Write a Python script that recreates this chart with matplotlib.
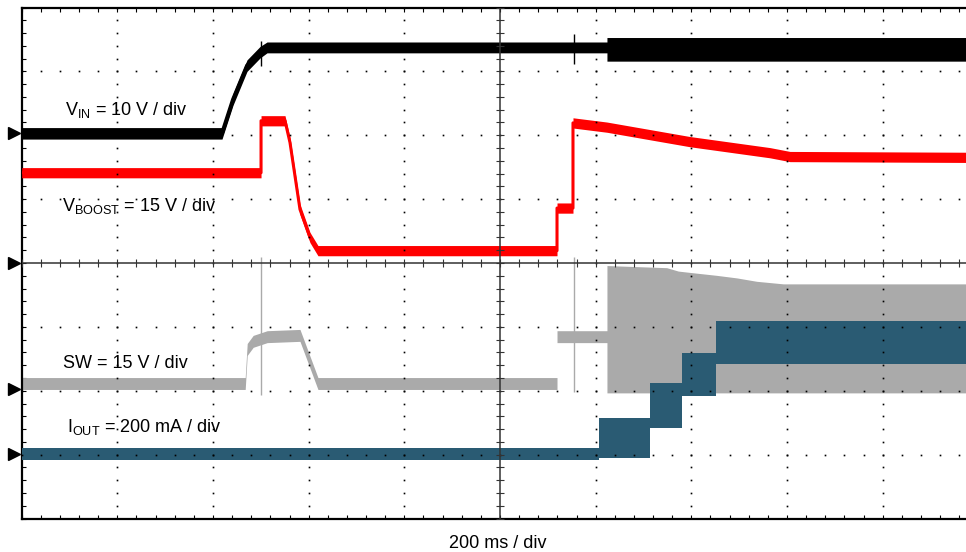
import matplotlib
matplotlib.use("Agg")
import matplotlib.pyplot as plt
import numpy as np

plt.rcParams['font.family'] = ['Liberation Sans', 'DejaVu Sans']
plt.rcParams['mathtext.fontset'] = 'custom'
plt.rcParams['mathtext.rm'] = 'Liberation Sans'
plt.rcParams['mathtext.it'] = 'Liberation Sans:italic'
plt.rcParams['mathtext.bf'] = 'Liberation Sans:bold'

# scope screen: 10 x 8 divisions, 200 ms / div
MS_PER_DIV = 200
N_XDIV = 10
N_YDIV = 8

# channel ground marker (div from screen centre) and units per division
VIN_OFFSET, VIN_SCALE = 2.03, 10        # V / div
VBOOST_OFFSET, VBOOST_SCALE = 0.0, 15   # V / div
SW_OFFSET, SW_SCALE = -1.98, 15         # V / div
IOUT_OFFSET, IOUT_SCALE = -2.99, 200    # mA / div

# VIN envelope (ms, V)
vin_t = [0, 418.8, 441.8, 471.1, 498.3, 512.9, 1223.6, 1223.6, 2000]
vin_lo = [-0.9, -0.9, 4.4, 9.7, 11.8, 12.6, 12.6, 11.3, 11.3]
vin_hi = [0.9, 0.9, 6.2, 11.5, 13.6, 14.3, 14.3, 15.0, 15.0]
vin_spike_t = [500.4, 1154.7]
vin_spike_lo = [10.5, 10.8]
vin_spike_hi = [14.4, 15.5]

# VBOOST envelope (ms, V)
vb_t = [0, 500.4, 500.4, 550.5, 560.9, 581.8, 602.7, 619.4, 1119.2, 1119.2,
        1152.6, 1152.6, 1223.6, 1397, 1564.4, 1606.2, 2000]
vb_lo = [20.0, 20.0, 32.2, 32.2, 27.1, 11.4, 4.8, 1.7, 1.7, 11.7,
         11.7, 31.7, 30.7, 27.3, 24.7, 23.8, 23.6]
vb_hi = [22.4, 22.4, 34.6, 34.6, 29.5, 13.8, 7.2, 4.1, 4.1, 14.1,
         14.1, 34.1, 33.1, 29.7, 27.1, 26.2, 26.0]

# SW envelope (ms, V)
sw_t = [0, 467.3, 471.5, 484.0, 513.3, 581.8, 619.4, 1119.2, 1119.2, 1223.6,
        1223.6, 1348.5, 1372.8, 1404.1, 1453.0, 1494.9, 1536.7, 1592.3, 2000]
sw_lo = [0.0, 0.0, 8.0, 9.9, 11.0, 11.3, 0.0, 0.0, 11.0, 11.0,
         -0.8, -0.8, -0.8, -0.8, -0.8, -0.8, -0.8, -0.8, -0.8]
sw_hi = [2.8, 2.8, 10.8, 12.7, 13.8, 14.1, 2.8, 2.8, 13.8, 13.8,
         29.1, 28.6, 27.8, 27.4, 26.8, 26.2, 25.4, 24.8, 24.8]
sw_spike_t = [500.4, 1154.7]
sw_spike_lo = [-1.2, -0.5]
sw_spike_hi = [31.0, 31.0]

# IOUT envelope (ms, mA)
io_t = [0, 1206.9, 1206.9, 1313.6, 1313.6, 1380.5, 1380.5, 1451.6, 1451.6, 2000]
io_lo = [-18, -18, -12, -12, 81, 81, 180, 180, 282, 282]
io_hi = [19, 19, 113, 113, 222, 222, 316, 316, 415, 415]

labels = [r'V$_\mathrm{IN}$ = 10 V / div',
          r'V$_\mathrm{BOOST}$ = 15 V / div',
          'SW = 15 V / div',
          r'I$_\mathrm{OUT}$ = 200 mA / div']
label_t = [90, 84, 86, 95]
label_div = [2.32, 0.81, -1.64, -2.64]


def draw_band(ax, t, lo, hi, scale, offset, color, lw, z):
    t = np.asarray(t, dtype=float)
    lo = np.asarray(lo, dtype=float) / scale + offset
    hi = np.asarray(hi, dtype=float) / scale + offset
    ax.fill_between(t, lo, hi, color=color, lw=0, zorder=z)
    if lw:
        ax.plot(t, (lo + hi) / 2, color=color, lw=lw, zorder=z,
                solid_capstyle='butt')


fig = plt.figure(figsize=(9.66, 5.52), dpi=100)
ax = fig.add_axes([21.7 / 966, 33.5 / 552, 956.6 / 966, 511 / 552])
xmax = MS_PER_DIV * N_XDIV
ax.set_xlim(0, xmax)
ax.set_ylim(-N_YDIV / 2, N_YDIV / 2)

# traces
draw_band(ax, sw_t, sw_lo, sw_hi, SW_SCALE, SW_OFFSET, '#aaaaaa', 0, 2)
ax.vlines(sw_spike_t, np.array(sw_spike_lo) / SW_SCALE + SW_OFFSET,
          np.array(sw_spike_hi) / SW_SCALE + SW_OFFSET, color='#aaaaaa', lw=1, zorder=2)
draw_band(ax, io_t, io_lo, io_hi, IOUT_SCALE, IOUT_OFFSET, '#2a5b73', 0, 3)
draw_band(ax, vb_t, vb_lo, vb_hi, VBOOST_SCALE, VBOOST_OFFSET, '#ff0000', 2.2, 3)
draw_band(ax, vin_t, vin_lo, vin_hi, VIN_SCALE, VIN_OFFSET, 'black', 2.8, 4)
ax.vlines(vin_spike_t, np.array(vin_spike_lo) / VIN_SCALE + VIN_OFFSET,
          np.array(vin_spike_hi) / VIN_SCALE + VIN_OFFSET, color='black', lw=1, zorder=4)

# graticule dots
xmin_t = np.arange(0, xmax + 1, MS_PER_DIV / 5)
ymin_d = np.arange(-N_YDIV / 2, N_YDIV / 2 + 0.01, 0.2)
gx = [x for x in np.arange(MS_PER_DIV, xmax, MS_PER_DIV) if x != xmax / 2]
gy = [y for y in np.arange(-N_YDIV / 2 + 1, N_YDIV / 2) if y != 0]
ax.plot(np.repeat(gx, len(ymin_d)), np.tile(ymin_d, len(gx)), ls='none',
        marker='s', ms=1.2, mew=0, color='black', zorder=6)
ax.plot(np.tile(xmin_t, len(gy)), np.repeat(gy, len(xmin_t)), ls='none',
        marker='s', ms=1.2, mew=0, color='black', zorder=6)

# centre cross with minor ticks
ax.axhline(0, color='#333333', lw=1.1, zorder=7)
ax.axvline(xmax / 2, color='#333333', lw=1.1, zorder=7)
ax.plot(xmin_t, np.zeros_like(xmin_t), ls='none', marker='|', ms=6, mew=0.8,
        color='#333333', zorder=7)
ax.plot(np.full_like(ymin_d, xmax / 2), ymin_d, ls='none', marker='_', ms=6,
        mew=0.8, color='#333333', zorder=7)

# border
ax.set_xticks(np.arange(0, xmax + 1, MS_PER_DIV))
ax.set_xticks(xmin_t, minor=True)
ax.set_yticks(np.arange(-N_YDIV / 2, N_YDIV / 2 + 1, 1))
ax.set_yticks(ymin_d, minor=True)
ax.tick_params(which='both', direction='in', length=3, width=0.8,
               top=True, right=True, labelbottom=False, labelleft=False)
for s in ax.spines.values():
    s.set_linewidth(1.6)

# channel ground markers
tr = ax.get_yaxis_transform()
offsets = [VIN_OFFSET, VBOOST_OFFSET, SW_OFFSET, IOUT_OFFSET]
ax.plot([-0.008] * 4, offsets, ls='none', marker='>', ms=9, color='black',
        transform=tr, clip_on=False, zorder=8)

for txt, t, d in zip(labels, label_t, label_div):
    ax.text(t, d, txt, fontsize=13, va='baseline', ha='left', zorder=9)

fig.text(498 / 966, 4 / 552, '200 ms / div', ha='center', va='baseline', fontsize=13)

fig.savefig('out.png', dpi=100)
